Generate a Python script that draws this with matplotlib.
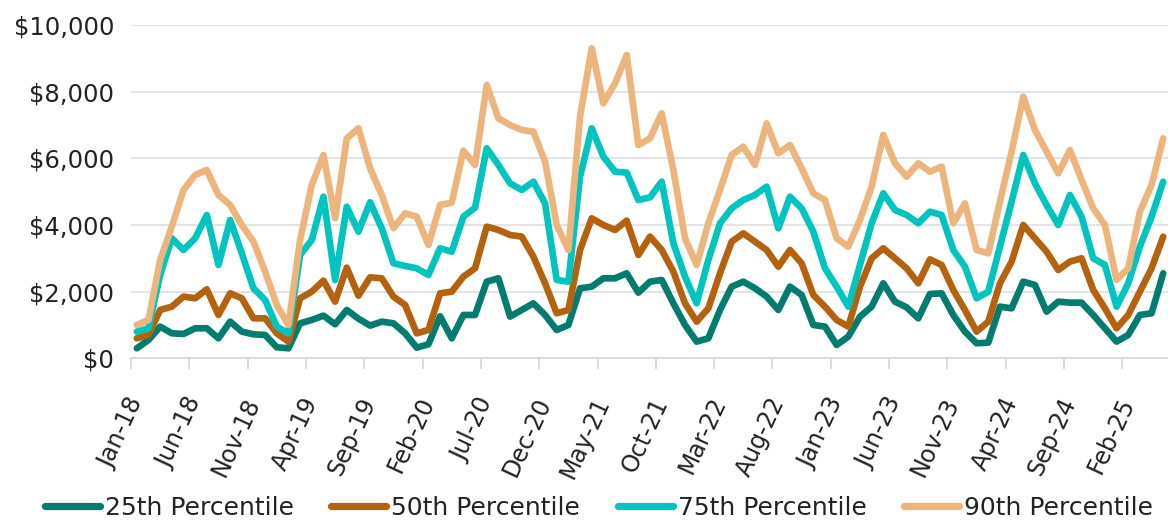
import numpy as np
import pandas as pd
import matplotlib
matplotlib.use('Agg')
import matplotlib.pyplot as plt
from matplotlib.ticker import FuncFormatter, FixedLocator

months = pd.date_range('2018-01-01', periods=89, freq='MS')
month_labels = [m.strftime('%b-%y') for m in months]

p25 = [300, 550, 950, 750, 730, 900, 900, 600, 1100, 800, 720, 700, 330, 300, 1050,
       1150, 1280, 1020, 1450, 1190, 980, 1100, 1050, 750, 320, 420, 1260, 600, 1300, 1300,
       2300, 2400, 1250, 1450, 1650, 1300, 850, 1000, 2100, 2150, 2400, 2400, 2550, 1970, 2300,
       2350, 1650, 1000, 500, 600, 1450, 2150, 2300, 2100, 1850, 1450, 2150, 1900, 1000, 950,
       400, 650, 1250, 1550, 2250, 1700, 1530, 1200, 1930, 1950, 1300, 800, 450, 470, 1550,
       1500, 2300, 2200, 1400, 1700, 1670, 1670, 1300, 900, 500, 700, 1300, 1350, 2550]

p50 = [600, 700, 1450, 1550, 1850, 1800, 2070, 1300, 1950, 1800, 1200, 1200, 750, 500, 1800,
       2000, 2330, 1700, 2720, 1880, 2430, 2400, 1850, 1600, 750, 850, 1950, 2000, 2450, 2700,
       3950, 3850, 3700, 3650, 3050, 2250, 1350, 1450, 3250, 4200, 4000, 3850, 4130, 3100, 3650,
       3250, 2600, 1650, 1100, 1500, 2550, 3500, 3750, 3500, 3250, 2750, 3250, 2850, 1900, 1550,
       1150, 950, 2150, 3000, 3300, 3000, 2700, 2250, 2970, 2800, 2050, 1450, 800, 1100, 2250,
       2900, 4000, 3600, 3200, 2650, 2900, 3000, 2050, 1500, 900, 1300, 2000, 2700, 3650]

p75 = [800, 900, 2500, 3600, 3250, 3600, 4300, 2800, 4150, 3150, 2100, 1750, 950, 750, 3100,
       3550, 4850, 2350, 4550, 3800, 4680, 3900, 2850, 2770, 2700, 2500, 3300, 3200, 4250, 4520,
       6300, 5800, 5250, 5050, 5300, 4650, 2350, 2300, 5450, 6900, 6050, 5600, 5570, 4750, 4830,
       5300, 3450, 2450, 1650, 2950, 4050, 4500, 4750, 4900, 5150, 3900, 4850, 4500, 3800, 2700,
       2150, 1550, 2800, 4050, 4950, 4450, 4300, 4050, 4400, 4300, 3250, 2750, 1800, 2000, 3350,
       4700, 6100, 5250, 4600, 4000, 4900, 4250, 3000, 2800, 1550, 2250, 3350, 4250, 5300]

p90 = [1000, 1150, 2950, 3950, 5050, 5500, 5650, 4900, 4600, 4000, 3500, 2600, 1600, 1000, 3550,
       5200, 6100, 4200, 6600, 6900, 5700, 4900, 3900, 4350, 4250, 3400, 4600, 4670, 6230, 5800,
       8200, 7200, 7000, 6850, 6800, 5900, 4000, 3250, 7250, 9300, 7650, 8250, 9100, 6400, 6600,
       7350, 5650, 3600, 2800, 4050, 5050, 6100, 6350, 5800, 7050, 6150, 6400, 5700, 4950, 4750,
       3600, 3350, 4150, 5150, 6700, 5850, 5450, 5850, 5600, 5750, 4050, 4650, 3250, 3150, 4700,
       6200, 7850, 6850, 6200, 5550, 6250, 5350, 4500, 4000, 2350, 2700, 4400, 5200, 6600]

series = [
    ('25th Percentile', p25, '#037C70'),
    ('50th Percentile', p50, '#B4620F'),
    ('75th Percentile', p75, '#00C5BF'),
    ('90th Percentile', p90, '#EDB57E'),
]

plt.rcParams['font.family'] = ['DejaVu Sans']
text_color = '#222222'
grid_color = '#E1E1E6'

fig = plt.figure(figsize=(11.68, 5.22), dpi=100)
ax = fig.add_axes([131 / 1168, 1 - 358.3 / 522, 1 - 131 / 1168, (358.3 - 25) / 522])

x = np.arange(len(months))
for name, vals, col in series:
    ax.plot(x, vals, color=col, lw=4.8, label=name,
            solid_joinstyle='round', solid_capstyle='round')

ax.set_xlim(-0.5, 88.41)
ax.set_ylim(0, 10000)
ax.set_yticks(np.arange(0, 10001, 2000))
ax.yaxis.set_major_formatter(FuncFormatter(lambda v, p: f'${v:,.0f}'))
ax.grid(axis='y', color=grid_color, lw=1.3)
ax.set_axisbelow(True)

# labels every 5 months, tick marks on the category boundaries
label_pos = x[::5]
ax.set_xticks(label_pos)
ax.set_xticklabels([month_labels[i] for i in label_pos], rotation=65,
                   ha='right', va='center', rotation_mode='anchor')
ax.xaxis.set_minor_locator(FixedLocator(np.arange(-0.5, 89, 5)))
ax.tick_params(axis='x', which='major', length=0, pad=29, labelsize=17, labelcolor=text_color)
ax.tick_params(axis='x', which='minor', length=8, width=1.3, color='#D8D8E2')
ax.tick_params(axis='y', length=0, pad=12, labelsize=17.5, labelcolor=text_color)

for s in ['top', 'right', 'left']:
    ax.spines[s].set_visible(False)
ax.spines['bottom'].set_color('#D8D8E2')
ax.spines['bottom'].set_linewidth(1.3)

leg = fig.legend(loc='center', bbox_to_anchor=(599 / 1168, 1 - 508 / 522), ncol=4,
                 frameon=False, fontsize=18, handlelength=2.2, handletextpad=0.2,
                 columnspacing=1.5, borderaxespad=0)
for h in leg.get_lines():
    h.set_linewidth(5.2)
    h.set_solid_capstyle('round')
for t in leg.get_texts():
    t.set_color(text_color)

fig.savefig('out.png', dpi=100)
